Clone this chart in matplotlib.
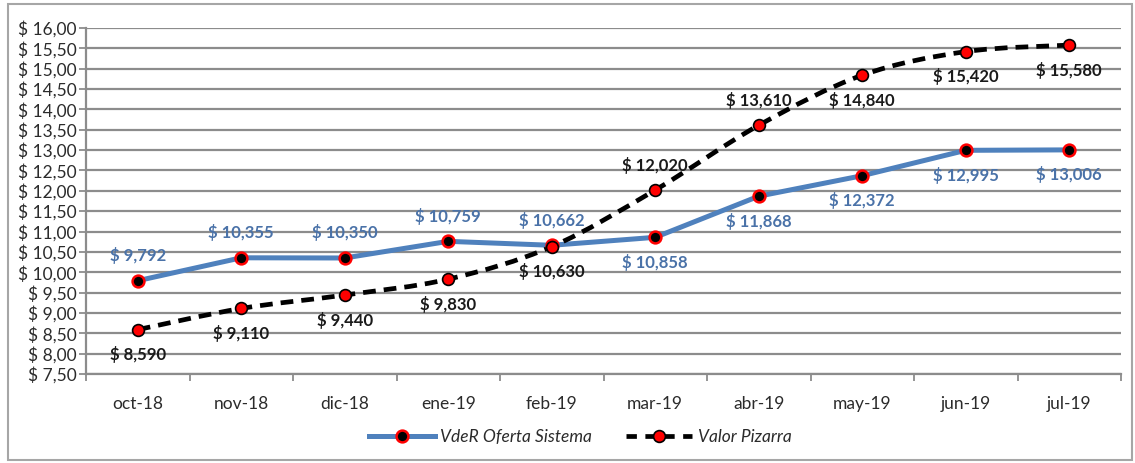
import matplotlib
matplotlib.use("Agg")
import matplotlib.pyplot as plt
from matplotlib.path import Path
from matplotlib.patches import PathPatch, Rectangle
from matplotlib.lines import Line2D
import numpy as np

categories = ["oct-18", "nov-18", "dic-18", "ene-19", "feb-19",
              "mar-19", "abr-19", "may-19", "jun-19", "jul-19"]
vder = [9.792, 10.355, 10.350, 10.759, 10.662, 10.858, 11.868, 12.372, 12.995, 13.006]
pizarra = [8.590, 9.110, 9.440, 9.830, 10.630, 12.020, 13.610, 14.840, 15.420, 15.580]
# label placement: +1 above, -1 below
vder_pos = [1, 1, 1, 1, 1, -1, -1, -1, -1, -1]
piz_pos = [-1, -1, -1, -1, -1, 1, 1, -1, -1, -1]
yticks = np.arange(7.5, 16.01, 0.5)

plt.rcParams['font.family'] = ['Lato', 'DejaVu Sans']

BLUE = "#4F81BD"
BLUE_TXT = "#4A72A8"
GRID = "#8C8C8C"
TXT = "#2b2b2b"

fig = plt.figure(figsize=(11.35, 4.63), dpi=100)
W, H = 1135, 463
ax = fig.add_axes([86 / W, 1 - 374 / H, (1121 - 86) / W, (374 - 28) / H])

x = np.arange(len(categories))


def smooth_path(xs, ys):
    pts = np.column_stack([xs, ys]).astype(float)
    n = len(pts)
    verts = [pts[0]]
    codes = [Path.MOVETO]
    for i in range(n - 1):
        p0 = pts[i - 1] if i > 0 else pts[i]
        p1 = pts[i]
        p2 = pts[i + 1]
        p3 = pts[i + 2] if i + 2 < n else pts[i + 1]
        c1 = p1 + (p2 - p0) / 6.0
        c2 = p2 - (p3 - p1) / 6.0
        verts += [c1, c2, p2]
        codes += [Path.CURVE4] * 3
    return Path(verts, codes)


ax.set_xlim(-0.5, len(categories) - 0.5)
ax.set_ylim(7.5, 16.0)

for yv in yticks:
    ax.axhline(yv, color=GRID, lw=1.6, zorder=1)

ax.plot(x, vder, color=BLUE, lw=3.6, zorder=3, solid_joinstyle='round',
        solid_capstyle='round')
ax.add_patch(PathPatch(smooth_path(x, pizarra), facecolor='none', edgecolor='black',
                       lw=3.4, linestyle=(0, (2.7, 1.7)), zorder=4))

ax.plot(x, vder, linestyle='none', marker='o', markersize=8.5,
        markerfacecolor='black', markeredgecolor='red', markeredgewidth=1.8, zorder=5)
ax.plot(x, pizarra, linestyle='none', marker='o', markersize=8.5,
        markerfacecolor='red', markeredgecolor='black', markeredgewidth=1.2, zorder=6)


def fmt(v):
    return "$ " + f"{v:.3f}".replace('.', ',')


for xi, v, p in zip(x, vder, vder_pos):
    ax.annotate(fmt(v), (xi, v), xytext=(0, 18 * p), textcoords='offset points',
                ha='center', va='center', fontsize=12, fontweight='bold',
                color=BLUE_TXT, zorder=7)
for xi, v, p in zip(x, pizarra, piz_pos):
    ax.annotate(fmt(v), (xi, v), xytext=(0, 18 * p), textcoords='offset points',
                ha='center', va='center', fontsize=12, fontweight='bold',
                color='#1a1a1a', zorder=7)

ax.set_yticks(yticks)
ax.set_yticklabels(["$ " + f"{t:.2f}".replace('.', ',') for t in yticks],
                   fontsize=12.5, color=TXT)
ax.set_xticks(x)
ax.set_xticklabels(categories, fontsize=12.5, color=TXT)
ax.set_xticks(np.arange(-0.5, len(categories), 1.0), minor=True)
ax.tick_params(axis='x', which='major', length=0, pad=16)
ax.tick_params(axis='x', which='minor', length=5, width=1.3, color=GRID, direction='out')
ax.tick_params(axis='y', which='major', length=5, width=1.3, color=GRID, pad=2)

for s in ['top', 'right']:
    ax.spines[s].set_visible(False)
for s in ['left', 'bottom']:
    ax.spines[s].set_color(GRID)
    ax.spines[s].set_linewidth(1.6)
    ax.spines[s].set_zorder(2)

h1 = Line2D([], [], color=BLUE, lw=3.6, marker='o', markersize=8.5,
            markerfacecolor='black', markeredgecolor='red', markeredgewidth=1.8)
h2 = Line2D([], [], color='black', lw=3.4, linestyle=(0, (2.2, 1.8)), marker='o',
            markersize=8.5, markerfacecolor='red', markeredgecolor='black',
            markeredgewidth=1.2)
leg = fig.legend([h1, h2], ["VdeR Oferta Sistema", "Valor Pizarra"],
                 loc='center', bbox_to_anchor=(580 / W, 1 - 437 / H), ncol=2,
                 frameon=False, prop={'style': 'italic', 'size': 12.5},
                 handlelength=3.8, columnspacing=2.0, handletextpad=0.3)
for t in leg.get_texts():
    t.set_color(TXT)

fig.patches.append(Rectangle((8 / W, 1 - 460 / H), (1132 - 8) / W, (460 - 4) / H,
                             transform=fig.transFigure, fill=False,
                             edgecolor='#A6A6A6', lw=1.5))

fig.savefig("out.png", dpi=100)
